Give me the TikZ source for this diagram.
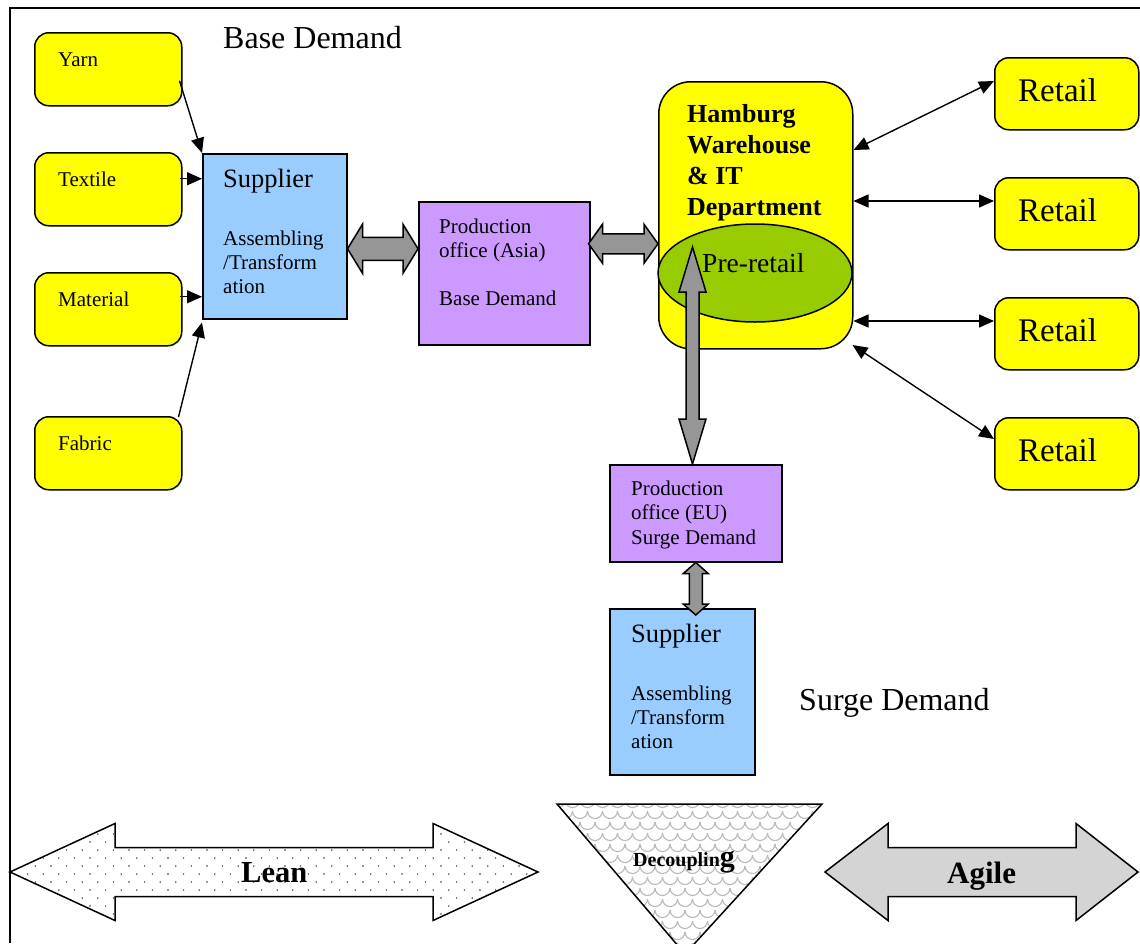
\documentclass[tikz,border=0pt]{standalone}
\usepackage{fontspec}
\setmainfont{Liberation Serif}
\usetikzlibrary{calc,arrows.meta,shapes.geometric}
\definecolor{yel}{HTML}{FFFF00}
\definecolor{sblue}{HTML}{99CCFF}
\definecolor{purp}{HTML}{CC99FF}
\definecolor{pgreen}{HTML}{99CC00}
\definecolor{agray}{HTML}{969696}
\definecolor{lgray}{HTML}{D4D4D4}
\newcommand\fsz[2]{\fontsize{#1pt}{#2pt}\selectfont}
% horizontal block double arrow: #1 left tip, #2 right tip, #3 head length, #4 half shaft, #5 half head
\newcommand\hbarrow[5]{%
  \draw[blockarrow] let \p1=(#1), \p2=(#2) in
    (\x1,\y1) -- (\x1+#3,\y1+#5) -- (\x1+#3,\y1+#4) -- (\x2-#3,\y1+#4) -- (\x2-#3,\y1+#5)
    -- (\x2,\y1) -- (\x2-#3,\y1-#5) -- (\x2-#3,\y1-#4) -- (\x1+#3,\y1-#4) -- (\x1+#3,\y1-#5) -- cycle;}
% vertical block double arrow: #1 top tip, #2 bottom tip
\newcommand\vbarrow[5]{%
  \draw[blockarrow] let \p1=(#1), \p2=(#2) in
    (\x1,\y1) -- (\x1+#5,\y1-#3) -- (\x1+#4,\y1-#3) -- (\x1+#4,\y2+#3) -- (\x1+#5,\y2+#3)
    -- (\x1,\y2) -- (\x1-#5,\y2+#3) -- (\x1-#4,\y2+#3) -- (\x1-#4,\y1-#3) -- (\x1-#5,\y1-#3) -- cycle;}
\tikzset{
  ybox/.style={draw, line width=1.5pt, fill=yel, rounded corners=14pt, minimum width=147pt, minimum height=73pt, inner sep=0pt, anchor=north west},
  rbox/.style={ybox, minimum width=144pt, minimum height=72pt},
  sqbox/.style={draw, line width=1.5pt, inner sep=0pt, anchor=north west},
  txt/.style={anchor=base west, inner sep=0pt, align=left},
  smalltxt/.style={txt, font=\fsz{21}{24}},
  suptxt/.style={txt, font=\fsz{26.5}{30}},
  bigtxt/.style={txt, font=\fsz{32}{36}},
  retailtxt/.style={txt, font=\fsz{33}{36}},
  blockarrow/.style={draw, line width=1.5pt, fill=agray, line join=miter},
  onearrow/.style={line width=1.4pt, -{Triangle[length=15pt,width=13pt]}},
  thinarrow/.style={line width=1.4pt, {Triangle[length=15pt,width=13pt]}-{Triangle[length=15pt,width=13pt]}},
}
\begin{document}
\begin{tikzpicture}[x=1pt,y=-1pt]
\useasboundingbox (0,0) rectangle (1140,943);
\fill[white] (0,0) rectangle (1140,943);
% frame
\draw[line width=1.5pt] (10,943) -- (10,8) -- (1140,8);
\node[bigtxt] (based) at (223,48) {Base Demand};
% raw material boxes
\node[ybox] (yarn) at (34,32) {};
\node[ybox] (textile) at (34,152) {};
\node[ybox] (material) at (34,272) {};
\node[ybox] (fabric) at (34,416) {};
\node[smalltxt] (tyarn) at (58,66) {Yarn};
\node[smalltxt] (ttextile) at (58,186) {Textile};
\node[smalltxt] (tmaterial) at (58,306) {Material};
\node[smalltxt] (tfabric) at (58,450) {Fabric};
% supplier (base)
\node[sqbox, fill=sblue, minimum width=144pt, minimum height=165pt] (sup) at (202,153) {};
\node[suptxt] (tsup) at (223,187) {Supplier};
\node[smalltxt] (tsupb) at (223,293) {Assembling\\/Transform\\ation};
% production office asia
\node[sqbox, fill=purp, minimum width=171pt, minimum height=143pt] (pa) at (418,201) {};
\node[smalltxt] (tpa) at (439,305) {Production\\office (Asia)\\[24pt]Base Demand};
% hamburg
\node[sqbox, fill=yel, rounded corners=32pt, minimum width=194pt, minimum height=267pt] (hh) at (658,81) {};
\node[txt, font=\bfseries\fsz{26}{30.7}] (thh) at (687,215) {Hamburg\\Warehouse\\\& IT\\Department};
\node[draw, line width=1.5pt, fill=pgreen, ellipse, minimum width=194pt, minimum height=98pt, inner sep=0pt] (pre) at (755,273) {};
\node[txt, font=\fsz{27.5}{30}] (tpre) at (702,272) {Pre-retail};
% production office EU
\node[sqbox, fill=purp, minimum width=172pt, minimum height=97pt] (peu) at (609,464) {};
\node[txt, font=\fsz{21}{24.5}] (tpeu) at (631,544) {Production\\office (EU)\\Surge Demand};
% supplier (surge)
\node[sqbox, fill=sblue, minimum width=145pt, minimum height=166pt] (sup2) at (609,608) {};
\node[suptxt] (tsup2) at (631,642) {Supplier};
\node[smalltxt] (tsup2b) at (631,748) {Assembling\\/Transform\\ation};
\node[bigtxt] (surged) at (799,710) {Surge Demand};
% retail
\node[rbox] (r1) at (994,57) {};
\node[rbox] (r2) at (994,177) {};
\node[rbox] (r3) at (994,297) {};
\node[rbox] (r4) at (994,417) {};
\node[retailtxt] (tr1) at (1018,101) {Retail};
\node[retailtxt] (tr2) at (1018,221) {Retail};
\node[retailtxt] (tr3) at (1018,341) {Retail};
\node[retailtxt] (tr4) at (1018,461) {Retail};
% thin arrows to supplier
\coordinate (ta) at ($(textile.east)+(-3,-10.5)$);
\coordinate (ma) at ($(material.east)+(-3,-12.5)$);
\draw[onearrow] ($(yarn.east)+(-3,11.5)$) -- (sup.north west);
\draw[onearrow] (ta) -- (ta -| sup.west);
\draw[onearrow] (ma) -- (ma -| sup.west);
\draw[onearrow] ($(fabric.north east)+(-4,1)$) -- ($(sup.south west)+(0,3)$);
% retail arrows
\draw[thinarrow] ($(hh.north east)+(0,69)$) -- ($(r1.north west)+(0,24)$);
\draw[thinarrow] ($(hh.north east)+(0,120)$) -- ($(r2.north west)+(0,24)$);
\draw[thinarrow] ($(hh.north east)+(0,240)$) -- ($(r3.north west)+(0,24)$);
\draw[thinarrow] ($(hh.north east)+(-1,264)$) -- ($(r4.north west)+(0,22)$);
% block arrows
\coordinate (h1a) at ($(sup.east)+(0,12.5)$);
\coordinate (h1b) at (h1a -| pa.west);
\hbarrow{h1a}{h1b}{15pt}{11.5pt}{24.5pt}
\coordinate (h2a) at ($(pa.east)+(-2,-29.5)$);
\coordinate (h2b) at (h2a -| hh.west);
\hbarrow{h2a}{h2b}{14pt}{10pt}{19.5pt}
\coordinate (v1a) at ($(pre.center)+(-62.5,-26)$);
\coordinate (v1b) at (v1a |- peu.north);
\vbarrow{v1a}{v1b}{45pt}{6.5pt}{13.5pt}
\coordinate (v2a) at (peu.south);
\coordinate (v2b) at ($(v2a |- sup2.north)+(0,7)$);
\vbarrow{v2a}{v2b}{11pt}{6.5pt}{12.5pt}
% Lean arrow
\fill[white] (10,872) -- (115,823.5) -- (115,847.5) -- (433,847.5) -- (433,823.5) -- (538,872) -- (433,920.5) -- (433,896.5) -- (115,896.5) -- (115,920.5) -- cycle;
\begin{scope}
  \clip (10,872) -- (115,823.5) -- (115,847.5) -- (433,847.5) -- (433,823.5) -- (538,872) -- (433,920.5) -- (433,896.5) -- (115,896.5) -- (115,920.5) -- cycle;
  \foreach \j in {0,...,12} {
    \foreach \i in {0,...,35} {
      \fill[black!80] ({12+\i*15.6+mod(\j,2)*7.8}, {826+\j*8}) circle[radius=0.8pt];
    }
  }
\end{scope}
\draw[line width=1.5pt, line join=miter] (10,872) -- (115,823.5) -- (115,847.5) -- (433,847.5) -- (433,823.5) -- (538,872) -- (433,920.5) -- (433,896.5) -- (115,896.5) -- (115,920.5) -- cycle;
\node[txt, font=\bfseries\fsz{30.5}{34}] (lean) at (241,882) {Lean};
% Decoupling triangle
\fill[white] (557,804) -- (822,804) -- (685,954) -- cycle;
\begin{scope}
  \clip (557,804) -- (822,804) -- (685,954) -- cycle;
  \foreach \j in {0,...,14} {
    \foreach \i in {0,...,19} {
      \draw[gray!55, line width=1.1pt] ({550+\i*15+mod(\j,2)*7.5}, {800+\j*11}) arc[start angle=180, end angle=360, radius=7.5pt];
    }
  }
\end{scope}
\draw[line width=1.5pt, line join=miter] (557,804) -- (822,804) -- (685,954) -- cycle;
\node[txt, font=\bfseries\fsz{20}{24}] (dec) at (633,866) {Decouplin{\fsz{30}{34}g}};
% Agile arrow
\draw[line width=1.5pt, fill=lgray, line join=miter] (825,872) -- (888,823.5) -- (888,847.5) -- (1076,847.5) -- (1076,823.5) -- (1138,872) -- (1076,920.5) -- (1076,896.5) -- (888,896.5) -- (888,920.5) -- cycle;
\node[txt, font=\bfseries\fsz{31}{34}] (agile) at (947,883) {Agile};
\end{tikzpicture}
\end{document}
